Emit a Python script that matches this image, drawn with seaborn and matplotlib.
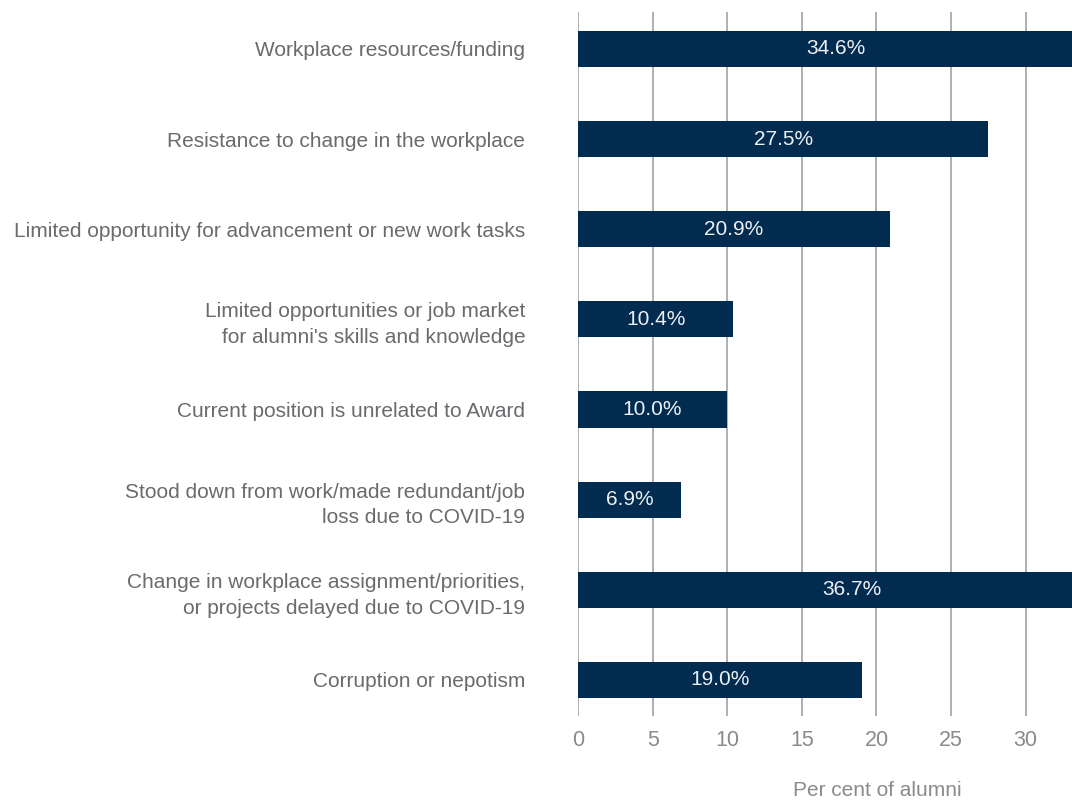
import numpy as np
import matplotlib
matplotlib.use("Agg")
import matplotlib.pyplot as plt
import seaborn as sns

# barriers to using skills, per cent of alumni
categories = [
    "Workplace resources/funding",
    "Resistance to change in the workplace",
    "Limited opportunity for advancement or new work tasks",
    "Limited opportunities or job market\nfor alumni's skills and knowledge",
    "Current position is unrelated to Award",
    "Stood down from work/made redundant/job\nloss due to COVID-19",
    "Change in workplace assignment/priorities,\nor projects delayed due to COVID-19",
    "Corruption or nepotism",
]
values = [34.6, 27.5, 20.9, 10.4, 10.0, 6.9, 36.7, 19.0]
xticks = [0, 5, 10, 15, 20, 25, 30]

sns.set_style("white")
plt.rcParams['font.family'] = ['Liberation Sans', 'DejaVu Sans']

fig = plt.figure(figsize=(10.72, 8), dpi=100)
ax = fig.add_axes([578 / 1072, 84 / 800, 494 / 1072, 704 / 800])

sns.barplot(x=values, y=categories, color="#012b4f", saturation=1,
            width=0.4, orient="h", ax=ax, zorder=3, edgecolor="none")

ax.set_xlim(0, 33.1)
ax.set_ylim(7.4, -0.41)
ax.set_xticks(xticks)
ax.xaxis.grid(True, color="#a9a9ad", linewidth=1.3, zorder=0)
ax.set_axisbelow(True)
for s in ax.spines.values():
    s.set_visible(False)

ax.tick_params(axis="x", length=0, pad=10, labelsize=15.5, labelcolor="#8a8a8f")
ax.tick_params(axis="y", length=0, pad=38, labelsize=15, labelcolor="#6a6a6f")
for lab in ax.get_yticklabels():
    lab.set_horizontalalignment("right")
    lab.set_multialignment("right")
    lab.set_linespacing(1.45)

# value labels sit at the middle of the full bar (even when clipped)
for i, v in enumerate(values):
    ax.text(v / 2, i, f"{v:.1f}%", ha="center", va="center",
            color="#eef0f3", fontsize=15, zorder=4, clip_on=True)

ax.set_xlabel("Per cent of alumni", fontsize=15, color="#8a8a8f")
ax.xaxis.label.set_va("center")
ax.xaxis.set_label_coords((877 - 578) / 494, -(790 - 716) / 704)
ax.set_ylabel("")

fig.savefig("out.png", dpi=100)
